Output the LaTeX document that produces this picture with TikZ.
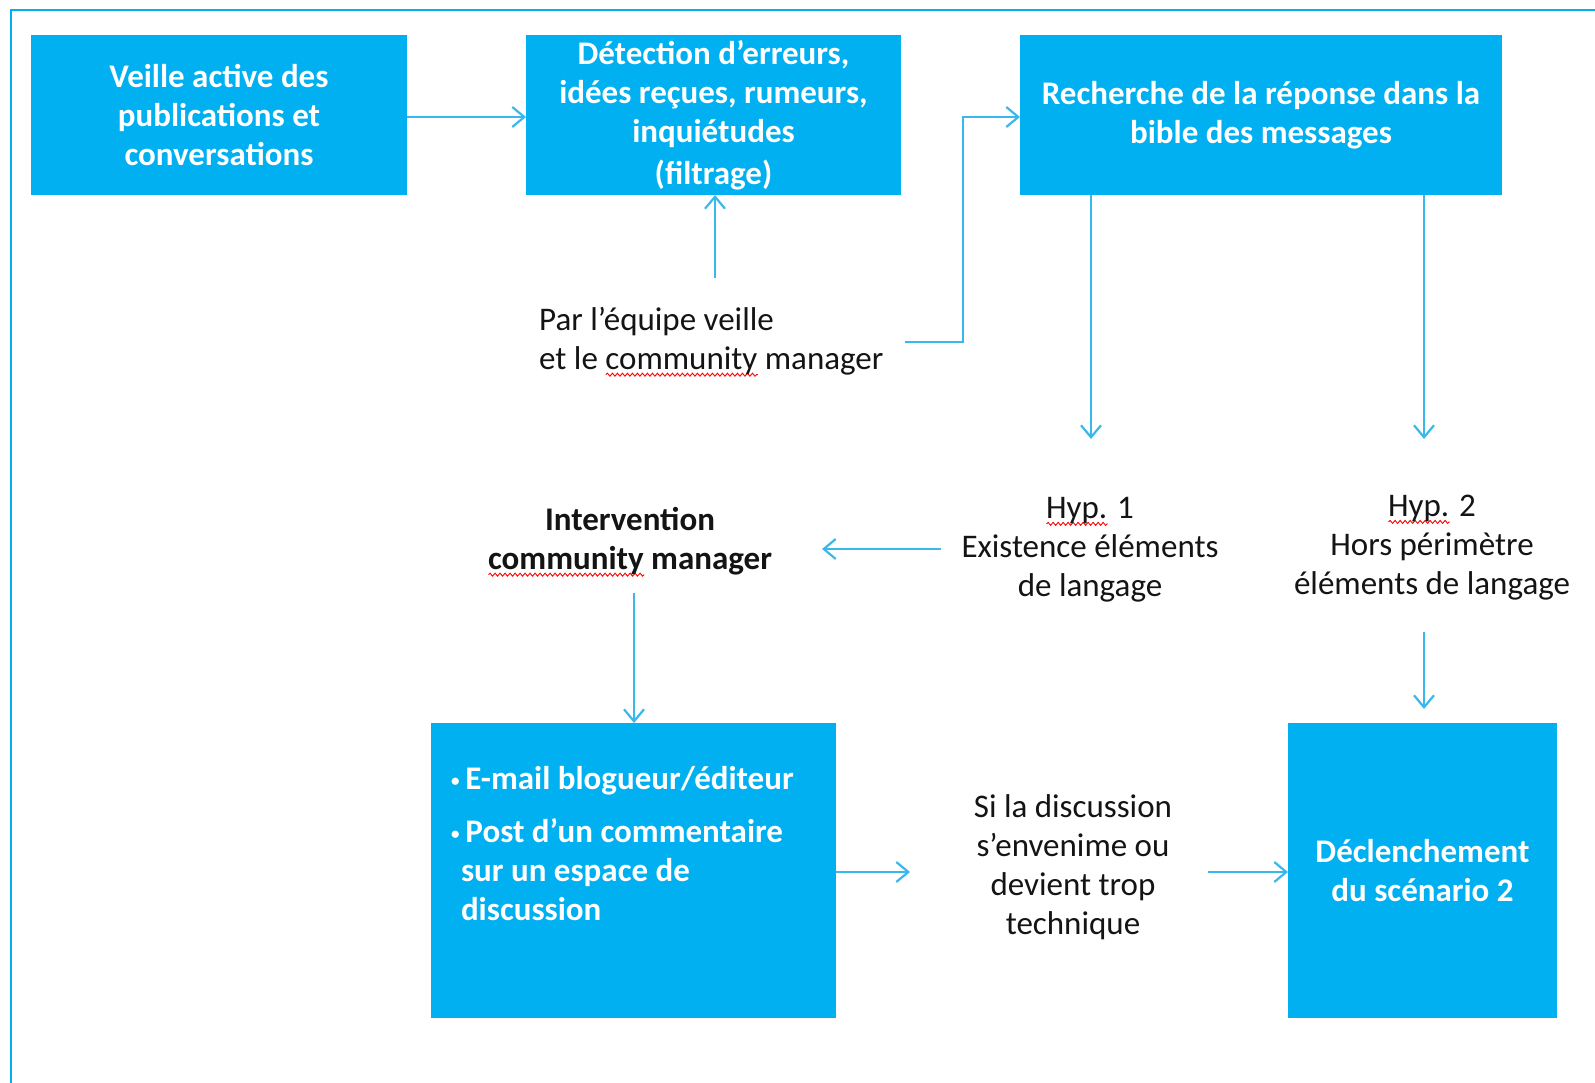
\documentclass[tikz,border=0pt]{standalone}
\usepackage{fontspec}
\setmainfont{Carlito}
\usetikzlibrary{arrows.meta,decorations.pathmorphing}
\definecolor{boxblue}{HTML}{00B0F0}
\definecolor{arrblue}{HTML}{3AB8EC}
\newlength\wavelen
\newcommand\redwave[1]{\settowidth{\wavelen}{#1}\rlap{\raisebox{-7pt}{\tikz\draw[red,line width=0.9pt,decorate,decoration={snake,amplitude=1.5pt,segment length=5pt}] (0pt,0pt) -- (\wavelen,0pt);}}#1}
\newcommand\smallbul{{\fontsize{17}{17}\selectfont\raisebox{3pt}{\textbullet}}\hspace{6pt}}
\begin{document}
\begin{tikzpicture}[x=1pt,y=-1pt,
 box/.style={fill=boxblue,draw=none,inner sep=0pt,outer sep=0pt,text=white,font=\bfseries\fontsize{33}{39}\selectfont,align=center},
 boxtext/.style={inner sep=0pt,outer sep=0pt,text=white,font=\bfseries\fontsize{33}{39}\selectfont,align=left},
 lbl/.style={inner sep=0pt,text=black!92,font=\fontsize{33}{39}\selectfont,align=center},
 arr/.style={draw=arrblue,line width=2.2pt,-{Straight Barb[length=12pt,width=20pt,line width=2.2pt]}}
]
\useasboundingbox[fill=white] (0,0) rectangle (1595,1083);
\draw[boxblue,line width=2.5pt] (1595,10) -- (11,10) -- (11,1083);

% boxes
\node[box,minimum width=376pt,minimum height=160pt] (box1) at (219,115) {Veille active des\\publications et\\conversations};
\node[box,minimum width=375pt,minimum height=160pt] (box2) at (713.5,115) {Détection d’erreurs,\\idées reçues, rumeurs,\\inquiétudes\\[3pt](filtrage)};
\node[box,minimum width=482pt,minimum height=160pt] (box3) at (1261,115) {Recherche de la réponse dans la\\bible des messages};
\node[box,minimum width=405pt,minimum height=295pt] (box4) at (633.5,870.5) {};
\node[boxtext,anchor=north west] (box4text) at (451,766) {\smallbul E-mail blogueur/éditeur\\[14pt]\smallbul Post d’un commentaire\\\hspace*{10pt}sur un espace de\\\hspace*{10pt}discussion};
\node[box,minimum width=269pt,minimum height=295pt] (box5) at (1422.5,870.5) {Déclenchement\\du scénario 2};

% labels
\node[lbl,anchor=west,align=left] (team) at (539,342) {Par l’équipe veille\\et le \redwave{community} manager};
\node[lbl,font=\bfseries\fontsize{33}{39}\selectfont] (interv) at (630,542) {Intervention\\\redwave{community} manager};
\node[lbl] (hyp1) at (1090,550) {\redwave{Hyp.} 1\\Existence éléments\\de langage};
\node[lbl] (hyp2) at (1432,548) {\redwave{Hyp.} 2\\Hors périmètre\\éléments de langage};
\node[lbl] (si) at (1073,867) {Si la discussion\\s’envenime ou\\devient trop\\technique};

% free ends
\coordinate (c2) at (715,278);
\coordinate (c3a) at (905,342);
\coordinate (c3b) at (963,117);
\coordinate (c4) at (1091,439);
\coordinate (c5) at (1424,439);
\coordinate (c6a) at (941,549);
\coordinate (c6b) at (822,549);
\coordinate (c7) at (634,593);
\coordinate (c8a) at (1424,632);
\coordinate (c8b) at (1424,709);
\coordinate (c9) at (910,872);
\coordinate (c10) at (1208,872);

% connectors
\draw[arr] (box1.east |- c3b) -- (box2.west |- c3b);
\draw[arr] (c2) -- (c2 |- box2.south);
\draw[arr] (c3a) -| (c3b) -- (box3.west |- c3b);
\draw[arr] (c4 |- box3.south) -- (c4);
\draw[arr] (c5 |- box3.south) -- (c5);
\draw[arr] (c6a) -- (c6b);
\draw[arr] (c7) -- (c7 |- box4.north);
\draw[arr] (c8a) -- (c8b);
\draw[arr] (box4.east |- c9) -- (c9);
\draw[arr] (c10) -- (box5.west |- c10);
\end{tikzpicture}
\end{document}
